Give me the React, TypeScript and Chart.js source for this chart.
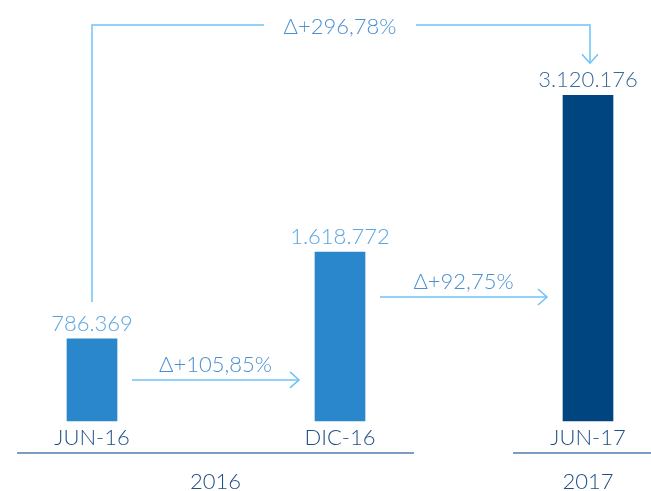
import React, { useEffect, useRef } from "react";
import { Chart, registerables } from "chart.js";

Chart.register(...registerables);

const categories = ["JUN-16", "DIC-16", "JUN-17"];
const values = [786369, 1618772, 3120176];
const valueLabels = ["786.369", "1.618.772", "3.120.176"];
const barColors = ["#2a87cb", "#2a87cb", "#00457f"];
const valueLabelColors = ["#5aa6e0", "#5aa6e0", "#3b6a9b"];
const stepDeltas = ["Δ+105,85%", "Δ+92,75%"];
const totalDelta = "Δ+296,78%";
const years = ["2016", "2017"];
const yearGroups = [[0, 1], [2, 2]];

const FONT = "Lato, 'Open Sans', sans-serif";
const ARROW = "#6dc3f6";
const DELTA_TXT = "#4b90d2";
const CAT_TXT = "#1f4f86";
const RULE = "#7b9dc1";

function chevronRight(ctx: CanvasRenderingContext2D, x: number, y: number) {
  ctx.beginPath();
  ctx.moveTo(x - 9, y - 8);
  ctx.lineTo(x, y);
  ctx.lineTo(x - 9, y + 8);
  ctx.stroke();
}
function chevronDown(ctx: CanvasRenderingContext2D, x: number, y: number) {
  ctx.beginPath();
  ctx.moveTo(x - 8, y - 9);
  ctx.lineTo(x, y);
  ctx.lineTo(x + 8, y - 9);
  ctx.stroke();
}

const annotations = {
  id: "annotations",
  afterDatasetsDraw(chart: any) {
    const ctx: CanvasRenderingContext2D = chart.ctx;
    const meta = chart.getDatasetMeta(0);
    const bars = meta.data.map((b: any) => {
      const p = b.getProps(["x", "y", "base", "width"], true);
      return { x: p.x, top: p.y, base: p.base, half: p.width / 2 };
    });
    ctx.save();
    ctx.textAlign = "center";
    ctx.textBaseline = "middle";

    // value labels
    ctx.font = `300 22px ${FONT}`;
    bars.forEach((b: any, i: number) => {
      ctx.fillStyle = valueLabelColors[i];
      ctx.fillText(valueLabels[i], b.x, b.top - 15);
    });

    // category labels
    ctx.font = `300 22px ${FONT}`;
    ctx.fillStyle = CAT_TXT;
    bars.forEach((b: any, i: number) => {
      ctx.fillText(categories[i], b.x, b.base + 17);
    });

    // year rules and labels
    const ruleY = bars[0].base + 32;
    const extents = [
      [17, 414],
      [513, 662],
    ];
    ctx.strokeStyle = RULE;
    ctx.lineWidth = 2;
    yearGroups.forEach((g, k) => {
      const [x0, x1] = extents[k];
      ctx.beginPath();
      ctx.moveTo(x0, ruleY);
      ctx.lineTo(x1, ruleY);
      ctx.stroke();
      ctx.fillStyle = CAT_TXT;
      ctx.fillText(years[k], k === 0 ? (x0 + x1) / 2 : bars[g[0]].x, ruleY + 29);
    });

    // step arrows
    ctx.strokeStyle = ARROW;
    ctx.lineWidth = 1.5;
    const yOff = [41, 45];
    stepDeltas.forEach((d, i) => {
      const a = bars[i];
      const b = bars[i + 1];
      const y = a.top + yOff[i];
      const x0 = a.x + a.half + 15;
      const x1 = b.x - b.half - 16;
      ctx.beginPath();
      ctx.moveTo(x0, y);
      ctx.lineTo(x1, y);
      ctx.stroke();
      chevronRight(ctx, x1, y);
      ctx.font = `300 22px ${FONT}`;
      ctx.fillStyle = DELTA_TXT;
      ctx.fillText(d, (x0 + x1) / 2, y - 15);
    });

    // total bracket
    const first = bars[0];
    const last = bars[bars.length - 1];
    const topY = 25;
    const midX = (first.x + last.x) / 2;
    const gap = 76;
    ctx.beginPath();
    ctx.moveTo(first.x, first.top - 37);
    ctx.lineTo(first.x, topY);
    ctx.lineTo(midX - gap, topY);
    ctx.moveTo(midX + gap, topY);
    ctx.lineTo(last.x + 2, topY);
    ctx.lineTo(last.x + 2, last.top - 32);
    ctx.stroke();
    chevronDown(ctx, last.x + 2, last.top - 32);
    ctx.font = `300 22px ${FONT}`;
    ctx.fillStyle = DELTA_TXT;
    ctx.fillText(totalDelta, midX, topY + 2);

    ctx.restore();
  },
};

export default function App() {
  const ref = useRef<HTMLCanvasElement | null>(null);
  useEffect(() => {
    if (!ref.current) return;
    const chart = new Chart(ref.current, {
      type: "bar",
      data: {
        labels: categories,
        datasets: [
          {
            data: values,
            backgroundColor: barColors,
            barThickness: 50,
            clip: false as any,
          },
        ],
      },
      options: {
        animation: false,
        responsive: false,
        maintainAspectRatio: false,
        events: [],
        layout: { padding: { left: 92, right: 63, top: 89, bottom: 70 } },
        plugins: { legend: { display: false }, tooltip: { enabled: false } },
        scales: {
          x: { type: "category", offset: false, display: false },
          y: { display: false, min: 0, max: 3180000 },
        },
      },
      plugins: [annotations],
    });
    return () => chart.destroy();
  }, []);
  return (
    <div style={{ position: "fixed", left: 0, top: 0, width: 651, height: 491, background: "#fff" }}>
      <canvas ref={ref} width={651} height={491} style={{ display: "block" }} />
    </div>
  );
}
